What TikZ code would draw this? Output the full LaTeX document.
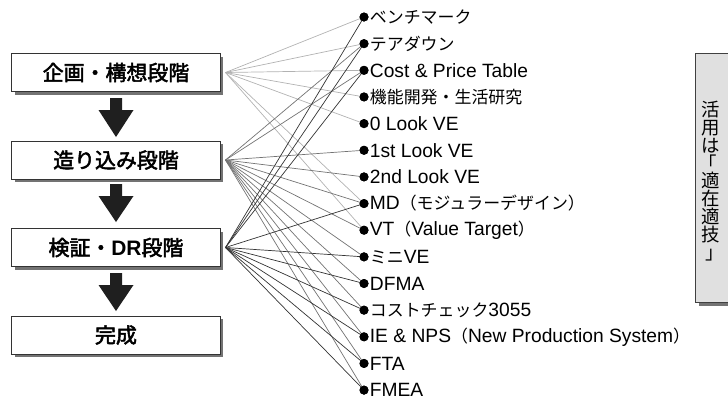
\documentclass[tikz,border=0pt]{standalone}
\usepackage{fontspec}
\setmainfont{Liberation Sans}
\newfontfamily\jp{Noto Sans CJK JP}[AutoFakeBold=2.5]
\usetikzlibrary{shadows,calc}
\newcommand\J[1]{{\jp\fontsize{17}{17}\selectfont #1}}
\newcommand\stagearrow[3]{%
  \fill[black!88] (#1-6,#2) -- (#1+6,#2) -- (#1+6,#2+12) -- (#1+17.5,#2+12)
    -- (#1,#3) -- (#1-17.5,#2+12) -- (#1-6,#2+12) -- cycle;}
\begin{document}
\begin{tikzpicture}[x=1bp,y=-1bp,
  stage/.style={draw=black!80,line width=1bp,fill=white,minimum width=208bp,
    minimum height=38bp,inner sep=0pt,font=\fontsize{21}{21}\selectfont\bfseries,
    drop shadow={shadow xshift=3bp,shadow yshift=-3bp,fill=black!55,opacity=1}},
  dot/.style={circle,fill=black,inner sep=0pt,minimum size=9bp},
  item/.style={anchor=west,inner sep=0pt,font=\fontsize{19.3}{19.3}\selectfont},
  l1/.style={draw=black!30,line width=0.7bp},
  l2/.style={draw=black!55,line width=0.7bp},
  l3/.style={draw=black!80,line width=0.7bp},
  sidebox/.style={draw=black!75,line width=1bp,fill=black!12,minimum width=42bp,
    minimum height=249bp,anchor=north west,
    drop shadow={shadow xshift=3bp,shadow yshift=-3bp,fill=black!55,opacity=1}}
]
\useasboundingbox (0,0) rectangle (728,396);

% items
\node[dot] (d1)  at (364,17.0)  {};
\node[dot] (d2)  at (364,43.65) {};
\node[dot] (d3)  at (364,70.3)  {};
\node[dot] (d4)  at (364,96.95) {};
\node[dot] (d5)  at (364,123.6) {};
\node[dot] (d6)  at (364,150.25){};
\node[dot] (d7)  at (364,176.9) {};
\node[dot] (d8)  at (364,203.55){};
\node[dot] (d9)  at (364,230.2) {};
\node[dot] (d10) at (364,256.85){};
\node[dot] (d11) at (364,283.5) {};
\node[dot] (d12) at (364,310.15){};
\node[dot] (d13) at (364,336.8) {};
\node[dot] (d14) at (364,363.45){};
\node[dot] (d15) at (364,390.1) {};

\node[item] (t1)  at ($(d1.east)+(1,0)$)  {\J{ベンチマーク}};
\node[item] (t2)  at ($(d2.east)+(1,0)$)  {\J{テアダウン}};
\node[item] (t3)  at ($(d3.east)+(1,0)$)  {Cost \& Price Table};
\node[item] (t4)  at ($(d4.east)+(1,0)$)  {\J{機能開発・生活研究}};
\node[item] (t5)  at ($(d5.east)+(1,0)$)  {0 Look VE};
\node[item] (t6)  at ($(d6.east)+(1,0)$)  {1st Look VE};
\node[item] (t7)  at ($(d7.east)+(1,0)$)  {2nd Look VE};
\node[item] (t8)  at ($(d8.east)+(1,0)$)  {MD\J{（モジュラーデザイン）}};
\node[item] (t9)  at ($(d9.east)+(1,0)$)  {VT\J{（}Value Target\J{）}};
\node[item] (t10) at ($(d10.east)+(1,0)$) {\J{ミニ}VE};
\node[item] (t11) at ($(d11.east)+(1,0)$) {DFMA};
\node[item] (t12) at ($(d12.east)+(1,0)$) {\J{コストチェック}3055};
\node[item] (t13) at ($(d13.east)+(1,0)$) {IE \& NPS\J{（}New Production System\J{）}};
\node[item] (t14) at ($(d14.east)+(1,0)$) {FTA};
\node[item] (t15) at ($(d15.east)+(1,0)$) {FMEA};

% stages
\node[stage] (s1) at (116,72.5)  {{\jp 企画・構想段階}};
\node[stage] (s2) at (116,160)   {{\jp 造り込み段階}};
\node[stage] (s3) at (116,247.5) {{\jp 検証・}DR{\jp 段階}};
\node[stage] (s4) at (116,335)   {{\jp 完成}};

\coordinate (b1) at ($(s1.east)+(5,0)$);
\coordinate (b2) at ($(s2.east)+(5,0)$);
\coordinate (b3) at ($(s3.east)+(5,0)$);

\foreach \j in {1,2,3,4,5,8,9} \draw[l1] (b1) -- (d\j.center);
\foreach \j in {2,3,6,7,8,9,10,11,12,13,14,15} \draw[l2] (b2) -- (d\j.center);
\foreach \j in {1,2,3,8,10,11,12,13,14,15} \draw[l3] (b3) -- (d\j.center);
\foreach \j in {1,...,15} \node[dot] at (d\j) {};

% arrows between stages
\stagearrow{116}{98}{137}
\stagearrow{116}{184}{222}
\stagearrow{116}{273}{311}

% side box
\node[sidebox] (side) at (695,53) {};
\node[font=\jp\fontsize{18.5}{17.9}\selectfont,align=center,inner sep=0pt] (vt)
  at (711,181) {活\\用\\は\\\makebox[1em][l]{\kern-0.19em「}\\適\\在\\適\\技\\\makebox[1em][l]{\kern0.19em」}};
\end{tikzpicture}
\end{document}
